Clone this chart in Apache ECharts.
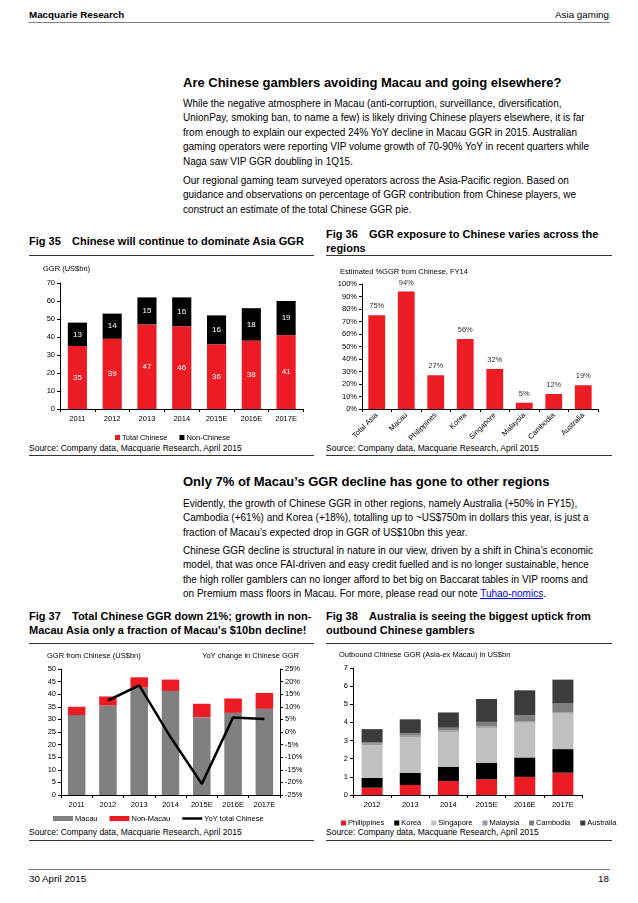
<!DOCTYPE html>
<html><head><meta charset="utf-8">
<script src="https://cdn.jsdelivr.net/npm/echarts@6/dist/echarts.min.js"></script>
<style>
html,body{margin:0;padding:0;background:#fff;}
#page{position:relative;width:638px;height:903px;overflow:hidden;font-family:'Liberation Sans',Arial,sans-serif;color:#000;}
.t{position:absolute;white-space:nowrap;line-height:1;}
.b{font-weight:bold;}
.p{font-size:10px;}
.h{font-size:13px;font-weight:bold;}
.f{font-size:11px;font-weight:bold;}
.s{font-size:8.5px;}
.ln{position:absolute;height:0;}
#chart{position:absolute;left:0;top:0;width:638px;height:903px;}
a{color:#0000ee;text-decoration:underline;}
</style></head>
<body><div id="page">
<div class="t b" style="left:29px;top:10px;font-size:9.8px;">Macquarie Research</div>
<div class="t" style="right:29px;top:10px;font-size:9.8px;">Asia gaming</div>
<div class="ln" style="left:28px;width:582px;top:22px;border-top:1.5px solid #808080;"></div>

<div class="t h" style="left:183px;top:76px;">Are Chinese gamblers avoiding Macau and going elsewhere?</div>
<div class="t p" style="left:183px;top:98.5px;">While the negative atmosphere in Macau (anti-corruption, surveillance, diversification,</div>
<div class="t p" style="left:183px;top:113.1px;">UnionPay, smoking ban, to name a few) is likely driving Chinese players elsewhere, it is far</div>
<div class="t p" style="left:183px;top:127.7px;">from enough to explain our expected 24% YoY decline in Macau GGR in 2015. Australian</div>
<div class="t p" style="left:183px;top:142.3px;">gaming operators were reporting VIP volume growth of 70-90% YoY in recent quarters while</div>
<div class="t p" style="left:183px;top:156.9px;">Naga saw VIP GGR doubling in 1Q15.</div>
<div class="t p" style="left:183px;top:175.5px;">Our regional gaming team surveyed operators across the Asia-Pacific region. Based on</div>
<div class="t p" style="left:183px;top:190.1px;">guidance and observations on percentage of GGR contribution from Chinese players, we</div>
<div class="t p" style="left:183px;top:204.7px;">construct an estimate of the total Chinese GGR pie.</div>

<div class="t f" style="left:29px;top:236px;">Fig 35</div>
<div class="t f" style="left:72px;top:236px;">Chinese will continue to dominate Asia GGR</div>
<div class="ln" style="left:29px;width:285px;top:255px;border-top:1.2px solid #333;"></div>
<div class="t f" style="left:326px;top:229px;">Fig 36</div>
<div class="t f" style="left:369px;top:229px;">GGR exposure to Chinese varies across the</div>
<div class="t f" style="left:326px;top:243px;">regions</div>
<div class="ln" style="left:326px;width:286px;top:255px;border-top:1.2px solid #333;"></div>

<div class="t s" style="left:29px;top:444px;">Source: Company data, Macquarie Research, April 2015</div>
<div class="ln" style="left:29px;width:285px;top:455px;border-top:1.2px solid #333;"></div>
<div class="t s" style="left:326px;top:444px;">Source: Company data, Macquarie Research, April 2015</div>
<div class="ln" style="left:326px;width:286px;top:455px;border-top:1.2px solid #333;"></div>

<div class="t h" style="left:183px;top:475px;">Only 7% of Macau’s GGR decline has gone to other regions</div>
<div class="t p" style="left:183px;top:498.5px;">Evidently, the growth of Chinese GGR in other regions, namely Australia (+50% in FY15),</div>
<div class="t p" style="left:183px;top:513px;">Cambodia (+61%) and Korea (+18%), totalling up to ~US$750m in dollars this year, is just a</div>
<div class="t p" style="left:183px;top:527.5px;">fraction of Macau’s expected drop in GGR of US$10bn this year.</div>
<div class="t p" style="left:183px;top:545.5px;">Chinese GGR decline is structural in nature in our view, driven by a shift in China’s economic</div>
<div class="t p" style="left:183px;top:560px;">model, that was once FAI-driven and easy credit fuelled and is no longer sustainable, hence</div>
<div class="t p" style="left:183px;top:574.5px;">the high roller gamblers can no longer afford to bet big on Baccarat tables in VIP rooms and</div>
<div class="t p" style="left:183px;top:589px;">on Premium mass floors in Macau. For more, please read our note <a>Tuhao-nomics</a>.</div>

<div class="t f" style="left:29px;top:611px;">Fig 37</div>
<div class="t f" style="left:72px;top:611px;">Total Chinese GGR down 21%; growth in non-</div>
<div class="t f" style="left:29px;top:625px;">Macau Asia only a fraction of Macau's $10bn decline!</div>
<div class="ln" style="left:29px;width:285px;top:643px;border-top:1.2px solid #333;"></div>
<div class="t f" style="left:326px;top:611px;">Fig 38</div>
<div class="t f" style="left:369px;top:611px;">Australia is seeing the biggest uptick from</div>
<div class="t f" style="left:326px;top:625px;">outbound Chinese gamblers</div>
<div class="ln" style="left:326px;width:286px;top:643px;border-top:1.2px solid #333;"></div>

<div class="t s" style="left:29px;top:828px;">Source: Company data, Macquarie Research, April 2015</div>
<div class="ln" style="left:29px;width:285px;top:840px;border-top:1.2px solid #333;"></div>
<div class="t s" style="left:326px;top:828px;">Source: Company data, Macquarie Research, April 2015</div>
<div class="ln" style="left:326px;width:286px;top:840px;border-top:1.2px solid #333;"></div>

<div class="ln" style="left:28px;width:582px;top:869px;border-top:1.5px solid #808080;"></div>
<div class="t" style="left:29px;top:874px;font-size:9.8px;">30 April 2015</div>
<div class="t" style="right:29px;top:874px;font-size:9.8px;">18</div>

<div id="chart"></div>
</div>
<script>
// ---- Fig 35 ----
const years35 = ['2011','2012','2013','2014','2015E','2016E','2017E'];
const totalChinese35 = [35, 39, 47, 46, 36, 38, 41];
const nonChinese35 = [13, 14, 15, 16, 16, 18, 19];
// ---- Fig 36 ----
const regions36 = ['Total Asia','Macau','Philippines','Korea','Singapore','Malaysia','Cambodia','Australia'];
const pctChinese36 = [75, 94, 27, 56, 32, 5, 12, 19];
// ---- Fig 37 ----
const years37 = ['2011','2012','2013','2014','2015E','2016E','2017E'];
const macau37 = [31.7, 35.5, 42.6, 41.3, 30.9, 32.6, 34.2];
const nonMacau37 = [3.3, 3.6, 4.1, 4.5, 5.3, 5.7, 6.3];
const yoy37 = [null, 12.5, 18.5, -2.0, -20.6, 5.8, 5.2];
// ---- Fig 38 ----
const years38 = ['2012','2013','2014','2015E','2016E','2017E'];
const philippines38 = [0.40, 0.55, 0.77, 0.86, 1.00, 1.23];
const korea38 = [0.55, 0.68, 0.79, 0.92, 1.07, 1.30];
const singapore38 = [1.80, 1.97, 1.92, 1.92, 1.92, 1.96];
const malaysia38 = [0.08, 0.08, 0.08, 0.09, 0.08, 0.07];
const cambodia38 = [0.07, 0.12, 0.15, 0.24, 0.33, 0.48];
const australia38 = [0.73, 0.77, 0.84, 1.26, 1.37, 1.32];

const RED = '#ED1C24';
const FONT = 'Liberation Sans';
const lbl = {fontFamily: FONT, fontSize: 7.5, color: '#000'};
const axLine = {show: true, lineStyle: {color: '#000', width: 1}};
const tick = {show: true, length: 3, lineStyle: {color: '#000', width: 1}};

function catX(grid, data, extra) {
  return Object.assign({type: 'category', gridIndex: grid, data: data, axisLine: axLine, axisTick: tick,
    axisLabel: Object.assign({margin: 6, interval: 0}, lbl), splitLine: {show: false}}, extra || {});
}
function valY(grid, min, max, interval, extra) {
  return Object.assign({type: 'value', gridIndex: grid, min: min, max: max, interval: interval,
    axisLine: axLine, axisTick: tick, axisLabel: Object.assign({margin: 5}, lbl), splitLine: {show: false}}, extra || {});
}
const ttl = Object.assign({fontWeight: 'normal'}, lbl);

const chart = echarts.init(document.getElementById('chart'), null, {renderer: 'canvas'});
chart.setOption({
  animation: false,
  textStyle: {fontFamily: FONT},
  title: [
    {text: 'GGR (US$bn)', left: 43, top: 265, padding: 0, textStyle: ttl},
    {text: 'Estimated %GGR from Chinese, FY14', left: 340, top: 268, padding: 0, textStyle: ttl},
    {text: 'GGR from Chinese (US$bn)', left: 47, top: 652, padding: 0, textStyle: ttl},
    {text: 'YoY change in Chinese GGR', right: 339, top: 652, padding: 0, textStyle: ttl},
    {text: 'Outbound Chinese GGR (Asia-ex Macau) in US$bn', left: 339, top: 651, padding: 0, textStyle: ttl}
  ],
  grid: [
    {left: 60, top: 283, width: 243.5, height: 126},
    {left: 362, top: 284, width: 236, height: 125},
    {left: 61, top: 669, width: 219, height: 126},
    {left: 353, top: 668, width: 229, height: 127}
  ],
  xAxis: [
    catX(0, years35),
    catX(1, regions36, {axisLabel: Object.assign({margin: 5, interval: 0, rotate: 45}, lbl)}),
    catX(2, years37),
    catX(3, years38)
  ],
  yAxis: [
    valY(0, 0, 70, 10),
    valY(1, 0, 100, 10, {axisLabel: Object.assign({margin: 5, formatter: '{value}%'}, lbl)}),
    valY(2, 0, 50, 5),
    valY(2, -25, 25, 5, {position: 'right', axisLabel: Object.assign({margin: 5, formatter: '{value}%'}, lbl)}),
    valY(3, 0, 7, 1)
  ],
  legend: [
    {data: ['Total Chinese', 'Non-Chinese'], left: 115, top: 433.5, padding: 0, icon: 'rect', itemWidth: 5, itemHeight: 5, itemGap: 12,
      textStyle: Object.assign({padding: [0, 0, 0, -3]}, lbl)},
    {data: [{name: 'Macau', icon: 'rect'}, {name: 'Non-Macau', icon: 'rect'}, {name: 'YoY total Chinese', icon: 'path://M0,0H8V1H0Z'}],
      left: 53, top: 814.5, padding: 0, itemWidth: 20, itemHeight: 5, itemGap: 12, textStyle: Object.assign({padding: [0, 0, 0, -3]}, lbl)},
    {data: ['Philippines', 'Korea', 'Singapore', 'Malaysia', 'Cambodia', 'Australia'], left: 341, top: 819, padding: 0, icon: 'rect',
      itemWidth: 5, itemHeight: 5, itemGap: 10, textStyle: Object.assign({padding: [0, 0, 0, -3]}, lbl)}
  ],
  series: [
    {name: 'Total Chinese', type: 'bar', xAxisIndex: 0, yAxisIndex: 0, stack: 'a', barWidth: '55%', data: totalChinese35,
      itemStyle: {color: RED}, label: {show: true, position: 'inside', color: '#fff', fontSize: 8, fontFamily: FONT}},
    {name: 'Non-Chinese', type: 'bar', xAxisIndex: 0, yAxisIndex: 0, stack: 'a', barWidth: '55%', data: nonChinese35,
      itemStyle: {color: '#000'}, label: {show: true, position: 'inside', color: '#fff', fontSize: 8, fontFamily: FONT}},
    {name: '%GGR from Chinese', type: 'bar', xAxisIndex: 1, yAxisIndex: 1, barWidth: '57%', data: pctChinese36,
      itemStyle: {color: RED}, label: {show: true, position: 'top', distance: 5, color: '#333', fontSize: 7.5, fontFamily: FONT, formatter: '{c}%'}},
    {name: 'Macau', type: 'bar', xAxisIndex: 2, yAxisIndex: 2, stack: 'b', barWidth: '56%', data: macau37, itemStyle: {color: '#808080'}},
    {name: 'Non-Macau', type: 'bar', xAxisIndex: 2, yAxisIndex: 2, stack: 'b', barWidth: '56%', data: nonMacau37, itemStyle: {color: RED}},
    {name: 'YoY total Chinese', type: 'line', xAxisIndex: 2, yAxisIndex: 3, data: yoy37, symbol: 'none', connectNulls: true,
      lineStyle: {color: '#000', width: 2.5}, itemStyle: {color: '#000'}},
    {name: 'Philippines', type: 'bar', xAxisIndex: 3, yAxisIndex: 4, stack: 'c', barWidth: '55%', data: philippines38, itemStyle: {color: RED}},
    {name: 'Korea', type: 'bar', xAxisIndex: 3, yAxisIndex: 4, stack: 'c', barWidth: '55%', data: korea38, itemStyle: {color: '#000'}},
    {name: 'Singapore', type: 'bar', xAxisIndex: 3, yAxisIndex: 4, stack: 'c', barWidth: '55%', data: singapore38, itemStyle: {color: '#c0c0c0'}},
    {name: 'Malaysia', type: 'bar', xAxisIndex: 3, yAxisIndex: 4, stack: 'c', barWidth: '55%', data: malaysia38, itemStyle: {color: '#9a9a9a'}},
    {name: 'Cambodia', type: 'bar', xAxisIndex: 3, yAxisIndex: 4, stack: 'c', barWidth: '55%', data: cambodia38, itemStyle: {color: '#7f7f7f'}},
    {name: 'Australia', type: 'bar', xAxisIndex: 3, yAxisIndex: 4, stack: 'c', barWidth: '55%', data: australia38, itemStyle: {color: '#3c3c3c'}}
  ]
});
</script>
</body></html>
